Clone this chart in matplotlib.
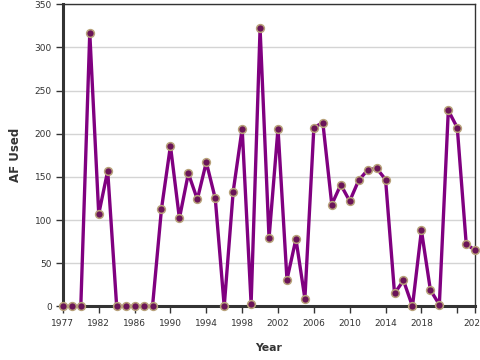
import matplotlib
matplotlib.use("Agg")
import matplotlib.pyplot as plt
import numpy as np

# water years 1977 - 2023, acre-feet used
years = list(range(1977, 2024))
af_used = [0, 0, 0, 317, 107, 157, 0, 0, 0, 0,
           0, 113, 186, 102, 154, 124, 167, 125, 0, 133,
           206, 3, 322, 79, 206, 31, 78, 9, 207, 213,
           118, 141, 122, 146, 158, 160, 147, 15, 30, 0,
           88, 19, 2, 227, 207, 72, 65]

tick_pos = [1977, 1981, 1985, 1989, 1993, 1997, 2001, 2005, 2009, 2013, 2017, 2021, 2023]
tick_labels = ['1977', '1982', '1986', '1990', '1994', '1998', '2002', '2006',
               '2010', '2014', '2018', '', '2023']
y_ticks = [0, 50, 100, 150, 200, 250, 300, 350]

fig = plt.figure(figsize=(4.8, 3.6), dpi=100)
ax = fig.add_axes([0.131, 0.149, 0.859, 0.839])

ax.plot(years, af_used, color='#800080', lw=2.4, zorder=3, clip_on=False,
        marker='o', markersize=5.6, markerfacecolor='#6a1458',
        markeredgecolor='#b8a27a', markeredgewidth=1.1)

ax.set_xlim(1977, 2023)
ax.set_ylim(0, 350)
ax.set_xticks(tick_pos)
ax.set_xticklabels(tick_labels)
ax.set_yticks(y_ticks)
ax.yaxis.grid(True, color='#d4d4d4', lw=1)
ax.set_axisbelow(True)

for s in ['left', 'bottom']:
    ax.spines[s].set_linewidth(2.2)
    ax.spines[s].set_color('#333333')
for s in ['top', 'right']:
    ax.spines[s].set_linewidth(1)
    ax.spines[s].set_color('#333333')

ax.tick_params(axis='both', labelsize=6.5, colors='#333333', length=5, width=1, pad=3)
ax.tick_params(axis='x', pad=4)

ax.set_xlabel('Year', fontsize=7.8, fontweight='bold', color='#333333', labelpad=11)
ax.set_ylabel('AF Used', fontsize=8.5, fontweight='bold', color='#333333', labelpad=9)

fig.savefig('out.png', dpi=100)
